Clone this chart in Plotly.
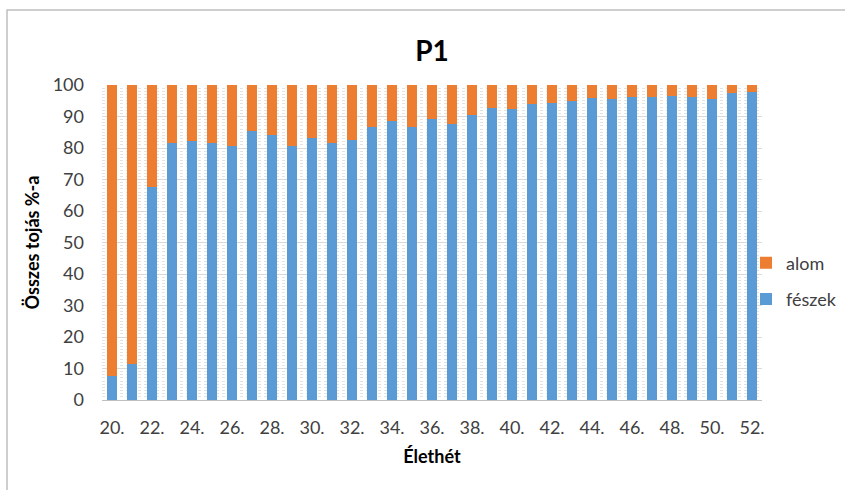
import plotly.graph_objects as go

weeks = list(range(20, 53))
feszek = [7.7, 11.3, 67.7, 81.7, 82.2, 81.7, 80.6, 85.4, 84.1, 80.6, 83.1,
          81.7, 82.5, 86.8, 88.7, 86.8, 89.1, 87.5, 90.5, 92.8, 92.5,
          93.9, 94.2, 95.0, 95.8, 95.6, 96.1, 96.1, 96.5, 96.1, 95.6, 97.4, 97.9]
alom = [92.3, 88.7, 32.3, 18.3, 17.8, 18.3, 19.4, 14.6, 15.9, 19.4, 16.9,
        18.3, 17.5, 13.2, 11.3, 13.2, 10.9, 12.5, 9.5, 7.2, 7.5,
        6.1, 5.8, 5.0, 4.2, 4.4, 3.9, 3.9, 3.5, 3.9, 4.4, 2.6, 2.1]
tick_vals = list(range(20, 53, 2))
tick_text = [f"{v}." for v in tick_vals]
y_ticks = list(range(0, 101, 10))

FONT = "Lato"
W, H = 845, 490
L, R, T, B = 102, 83, 85, 90
pw, ph = W - L - R, H - T - B

fig = go.Figure()
fig.add_trace(go.Bar(x=weeks, y=feszek, name="fészek", marker_color="#5B9BD5",
                     marker_line_width=0, legendgroup="f", legendrank=2))
fig.add_trace(go.Bar(x=weeks, y=alom, name="alom", marker_color="#ED7D31",
                     marker_line_width=0, legendgroup="a", legendrank=1))

def px2x(p):
    return (p - L) / pw

def px2y(p):
    return (H - B - p) / ph

fig.update_layout(
    width=W, height=H,
    margin=dict(l=L, r=R, t=T, b=B, autoexpand=False),
    barmode="stack", bargap=0.46,
    paper_bgcolor="white", plot_bgcolor="white",
    font=dict(family=FONT, color="#404040", size=18),
    title=dict(text="<b>P1</b>", x=(L + pw / 2) / W, xanchor="center",
               y=1 - 51 / H, yanchor="middle",
               font=dict(family=FONT, size=28, color="#000000")),
    legend=dict(traceorder="grouped", x=px2x(746), xanchor="left",
                y=px2y(281), yanchor="middle",
                font=dict(family=FONT, size=18, color="#404040"),
                itemwidth=30, tracegroupgap=10, bgcolor="rgba(0,0,0,0)"),
    xaxis=dict(range=[19.5, 52.5], tickvals=tick_vals, ticktext=tick_text,
               showgrid=False, showline=True, linecolor="#bfbfbf", linewidth=1,
               ticks="", tickfont=dict(size=18, color="#404040"),
               ticklabelstandoff=11,
               title=dict(text="<b>Élethét</b>", standoff=13,
                          font=dict(size=18, color="#000000"))),
    yaxis=dict(range=[0, 100], tickvals=y_ticks, showgrid=True, gridcolor="#d9d9d9",
               gridwidth=1, zeroline=False, showline=False, ticks="",
               tickfont=dict(size=18, color="#404040"), ticklabelstandoff=17,
               minor=dict(dtick=1, showgrid=True, gridcolor="#e3e3e3", griddash="dot",
                          gridwidth=1),
               title=dict(text="<b>Összes tojás %-a</b>", standoff=8,
                          font=dict(size=18, color="#000000"))),
    shapes=[dict(type="rect", xref="paper", yref="paper",
                 x0=px2x(7), x1=px2x(870), y0=px2y(520), y1=px2y(10),
                 line=dict(color="#bfbfbf", width=1.5), layer="below")],
)

fig.write_html("out.html")
